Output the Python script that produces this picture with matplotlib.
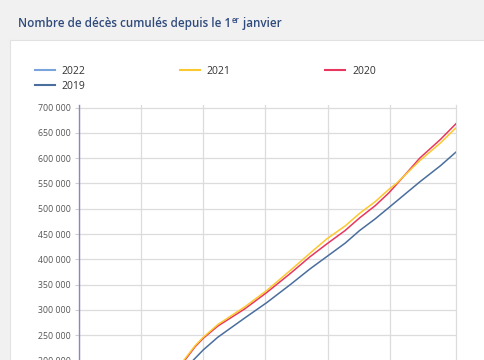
import matplotlib.pyplot as plt
from matplotlib.patches import Rectangle
from matplotlib.lines import Line2D
from matplotlib.ticker import FuncFormatter

plt.rcParams['font.family'] = ['Open Sans', 'DejaVu Sans']

# jour de l'annee (0 = 1er janvier) -> deces cumules
days_2019 = [0, 49, 78, 110, 120, 134, 160, 181, 204, 223, 239, 257, 271, 286, 299, 329, 349, 364]
deaths_2019 = [0, 95000, 148000, 200000, 221000, 246000, 284000, 314000, 350000, 381000,
               405000, 432000, 457000, 480000, 502000, 553000, 585000, 612000]

days_2020 = [0, 49, 78, 102, 112, 120, 134, 160, 181, 204, 223, 239, 257, 271, 286, 299, 307, 329, 349, 364]
deaths_2020 = [0, 98000, 152000, 200000, 227000, 244000, 268000, 302000, 334000, 372000, 405000,
               430000, 457000, 482000, 506000, 531000, 549000, 600000, 637000, 668000]

days_2021 = [0, 49, 78, 101, 112, 120, 134, 160, 181, 204, 223, 239, 257, 271, 286, 299, 307, 329, 349, 364]
deaths_2021 = [0, 100000, 152000, 200000, 229000, 246000, 271000, 306000, 338000, 378000, 412000,
               440000, 466000, 491000, 514000, 538000, 551000, 595000, 630000, 660000]

# 2022 : annee en cours, sous la partie visible
days_2022 = [0, 30, 60, 80]
deaths_2022 = [0, 60000, 115000, 150000]

y_ticks = list(range(0, 700001, 50000))
x_ticks = [0, 60, 120, 180, 240, 300]

c2022 = '#7aa3dc'
c2021 = '#fcc82f'
c2020 = '#e8365e'
c2019 = '#4a6e9e'

fig = plt.figure(figsize=(4.85, 3.6), dpi=100)
fig.patch.set_facecolor('#f1f1f1')

# carte blanche
fig.add_artist(Rectangle((10 / 485, -0.1), 1.0, 1 - 40 / 360 + 0.1, transform=fig.transFigure,
                         facecolor='white', edgecolor='#e2e2e2', linewidth=0.8, zorder=0))

# titre avec "er" en exposant
renderer = fig.canvas.get_renderer()
title_kw = dict(color='#2f4a7c', fontsize=8.4, fontweight='semibold', va='baseline')
t1 = fig.text(18 / 485, 1 - 27 / 360, 'Nombre de décès cumulés depuis le 1', **title_kw)
bb = t1.get_window_extent(renderer)
t2 = fig.text(bb.x1 / fig.bbox.width + 0.5 / 485, 1 - 23 / 360, 'er', color='#2f4a7c',
              fontsize=5.6, fontweight='semibold', va='baseline')
bb2 = t2.get_window_extent(renderer)
fig.text(bb2.x1 / fig.bbox.width, 1 - 27 / 360, ' janvier', **title_kw)

# axes : le bas du graphique sort de l'image (coupe a 200 000)
top_px, zero_px = 105, 461.7
ax = fig.add_axes([79 / 485, (360 - zero_px) / 360, (456 - 79) / 485, (zero_px - top_px) / 360])
ax.set_facecolor('white')

ax.plot(days_2019, deaths_2019, color=c2019, lw=1.1, label='2019', zorder=2)
ax.plot(days_2020, deaths_2020, color=c2020, lw=1.1, label='2020', zorder=3)
ax.plot(days_2021, deaths_2021, color=c2021, lw=1.1, label='2021', zorder=4)
ax.plot(days_2022, deaths_2022, color=c2022, lw=1.1, label='2022', zorder=5)

ax.set_xlim(0, 364)
ax.set_ylim(0, 705000)
ax.set_yticks(y_ticks)
ax.yaxis.set_major_formatter(FuncFormatter(lambda v, p: f'{int(v):,}'.replace(',', ' ')))
ax.set_xticks(x_ticks)
ax.set_xticklabels([])
ax.grid(True, color='#dcdcdc', lw=0.9, zorder=0)
ax.tick_params(axis='y', length=3, width=0.8, color='#cfcfcf', pad=3, labelsize=6.3, labelcolor='#555555')
ax.tick_params(axis='x', length=0)
for s in ['top', 'bottom']:
    ax.spines[s].set_visible(False)
ax.spines['right'].set_color('#dcdcdc')
ax.spines['right'].set_linewidth(0.9)
ax.spines['left'].set_color('#8a86c4')
ax.spines['left'].set_linewidth(1.0)

handles = [Line2D([], [], color=c2022, lw=1.5), Line2D([], [], color=c2019, lw=1.5),
           Line2D([], [], color=c2021, lw=1.5), Line2D([], [], color=c2020, lw=1.5)]
labels = ['2022', '2019', '2021', '2020']
fig.legend(handles, labels, loc='upper left', bbox_to_anchor=(35 / 485, 1 - 66 / 360),
           ncol=3, frameon=False, fontsize=7.5, handlelength=1.9, handletextpad=0.65,
           columnspacing=9.1, labelspacing=0.35, borderpad=0, borderaxespad=0,
           labelcolor='#333333')

fig.savefig('out.png', dpi=100, facecolor=fig.get_facecolor())
